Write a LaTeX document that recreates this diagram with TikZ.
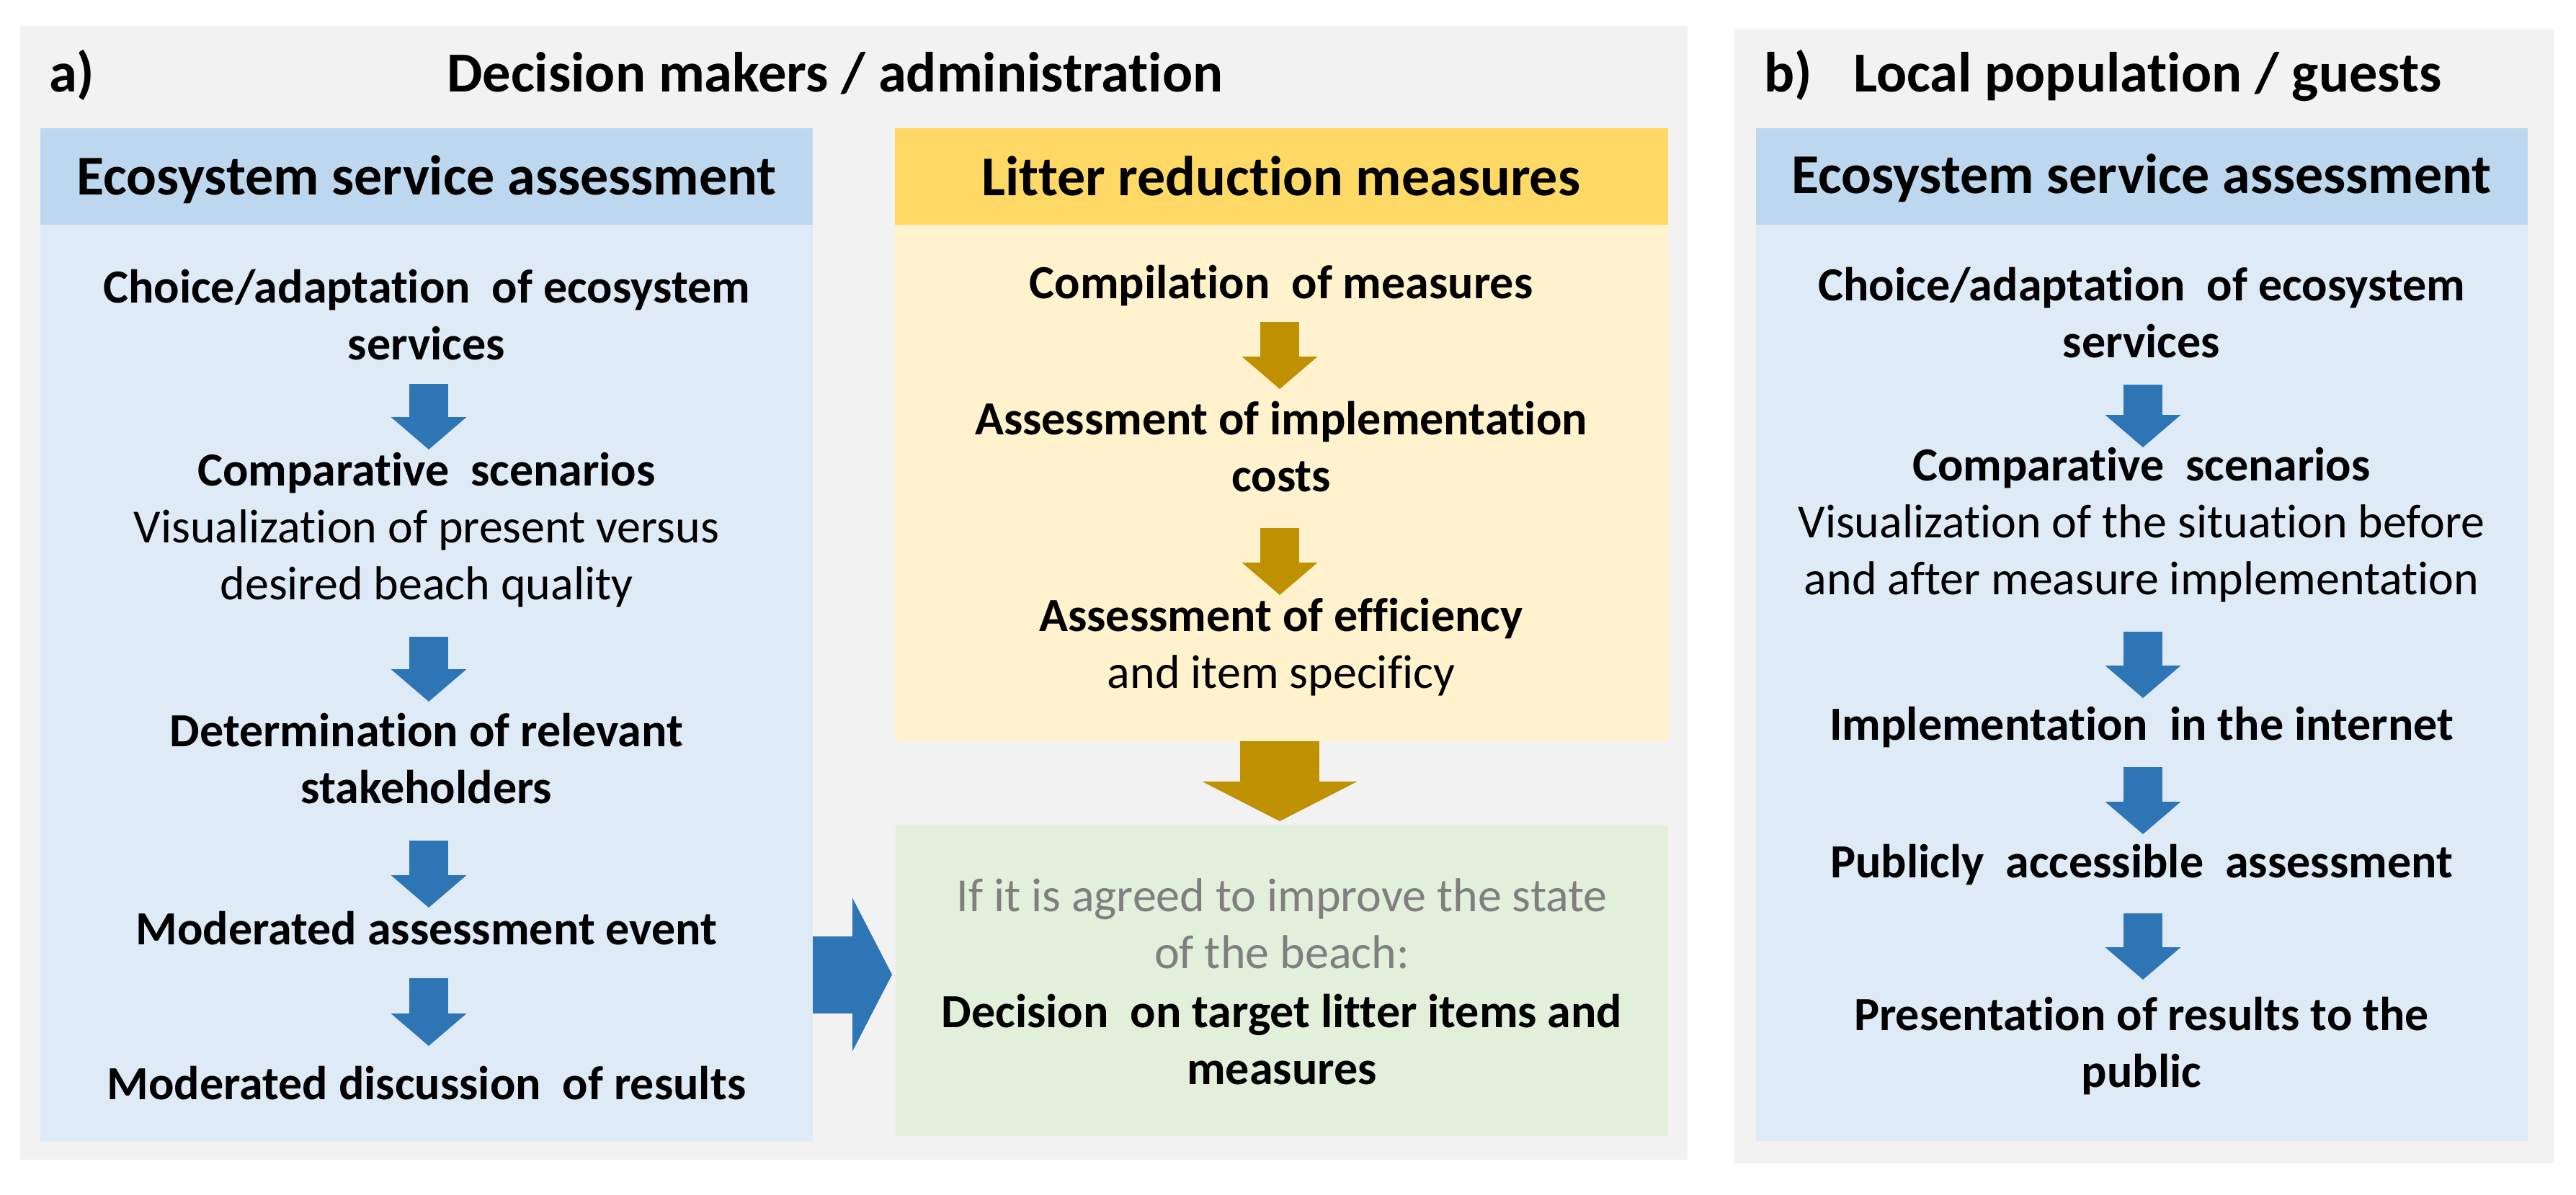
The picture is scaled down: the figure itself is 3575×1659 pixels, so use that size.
\documentclass[tikz,border=0pt]{standalone}
\usepackage{fontspec}
\setmainfont{Carlito}[Ligatures=NoCommon]
\usetikzlibrary{arrows.meta}
\definecolor{panelgray}{HTML}{F2F2F2}
\definecolor{bluehead}{HTML}{BDD7EE}
\definecolor{bluebody}{HTML}{DEEBF7}
\definecolor{yellowhead}{HTML}{FFD966}
\definecolor{yellowbody}{HTML}{FFF2CC}
\definecolor{greenbody}{HTML}{E2EFDA}
\definecolor{arrowblue}{HTML}{2E75B6}
\definecolor{arrowgold}{HTML}{BF9000}
\definecolor{graytext}{HTML}{7F7F7F}
\newcommand\firstline{\rule{0pt}{55pt}}
\begin{document}
\begin{tikzpicture}[x=1pt,y=-1pt,
  titletext/.style={font=\fontsize{78.5}{90}\selectfont\bfseries, anchor=base west, inner sep=0pt},
  headtext/.style={font=\fontsize{78}{90}\selectfont\bfseries, anchor=base, inner sep=0pt},
  bodytext/.style={font=\fontsize{66}{79}\selectfont, align=center, anchor=north, inner sep=0pt},
  boldbody/.style={bodytext, font=\fontsize{66}{79}\selectfont\bfseries},
  smallarrow/.style={line width=54pt, -{Triangle[width=105pt,length=45pt,line width=0pt]}},
  bluearrow/.style={smallarrow, color=arrowblue},
  goldarrow/.style={smallarrow, color=arrowgold},
]
\useasboundingbox (0,0) rectangle (3575,1659);
\fill[white] (0,0) rectangle (3575,1659);
% panels
\fill[panelgray] (28,36) rectangle (2342,1610);
\fill[panelgray] (2407,40) rectangle (3545,1615);
% boxes
\fill[bluehead] (56,178) rectangle (1128,312);
\fill[bluebody] (56,312) rectangle (1128,1585);
\fill[yellowhead] (1242,178) rectangle (2315,312);
\fill[yellowbody] (1242,312) rectangle (2315,1029);
\fill[greenbody] (1243,1146) rectangle (2315,1577);
\fill[bluehead] (2437,178) rectangle (3508,312);
\fill[bluebody] (2437,312) rectangle (3508,1584);

% titles
\node[titletext] (ta) at (68,128) {a)};
\node[titletext] (tat) at (620,128) {Decision makers / administration};
\node[titletext] (tb) at (2448,128) {b)};
\node[titletext] (tbt) at (2572,128) {Local population / guests};

% headers
\node[headtext] (hl) at (592,270) {Ecosystem service assessment};
\node[headtext] (hm) at (1778,271) {Litter reduction measures};
\node[headtext] (hr) at (2972,268) {Ecosystem service assessment};

% left column
\node[boldbody] (l1) at (592,365) {\firstline Choice/adaptation\ \ of ecosystem\\services};
\node[bodytext] (l2) at (592,619) {\firstline\textbf{Comparative\ \ scenarios}\\Visualization of present versus\\desired beach quality};
\node[boldbody] (l3) at (592,981) {\firstline Determination of relevant\\stakeholders};
\node[boldbody] (l4) at (592,1256) {\firstline Moderated assessment event};
\node[boldbody] (l5) at (592,1471) {\firstline Moderated discussion\ \ of results};

\coordinate (la1s) at (595,533);  \coordinate (la1e) at (595,624);
\coordinate (la2s) at (595,884);  \coordinate (la2e) at (595,974);
\coordinate (la3s) at (595,1167); \coordinate (la3e) at (595,1260);
\coordinate (la4s) at (595,1358); \coordinate (la4e) at (595,1452);
\draw[bluearrow] (la1s) -- (la1e);
\draw[bluearrow] (la2s) -- (la2e);
\draw[bluearrow] (la3s) -- (la3e);
\draw[bluearrow] (la4s) -- (la4e);

% middle column
\node[boldbody] (m1) at (1778,359) {\firstline Compilation\ \ of measures};
\node[boldbody] (m2) at (1778,548) {\firstline Assessment of implementation\\costs};
\node[bodytext] (m3) at (1778,821) {\firstline\textbf{Assessment of efficiency}\\and item specificy};
\coordinate (ma1s) at (1776,447); \coordinate (ma1e) at (1776,540);
\coordinate (ma2s) at (1776,733); \coordinate (ma2e) at (1776,826);
\draw[goldarrow] (ma1s) -- (ma1e);
\draw[goldarrow] (ma2s) -- (ma2e);

\coordinate (bgs) at (1776,1029); \coordinate (bge) at (1776,1140);
\draw[color=arrowgold, line width=110pt, -{Triangle[width=215pt,length=55pt,line width=0pt]}] (bgs) -- (bge);

\node[bodytext, text=graytext] (g1) at (1779,1210) {\firstline If it is agreed to improve the state\\of the beach:};
\node[boldbody] (g2) at (1779,1371) {\firstline Decision\ \ on target litter items and\\measures};

\coordinate (ras) at (1128,1353); \coordinate (rae) at (1238,1353);
\draw[color=arrowblue, line width=107pt, -{Triangle[width=213pt,length=55pt,line width=0pt]}] (ras) -- (rae);

% right column
\node[boldbody] (r1) at (2972,362) {\firstline Choice/adaptation\ \ of ecosystem\\services};
\node[bodytext] (r2) at (2972,612) {\firstline\textbf{Comparative\ \ scenarios}\\Visualization of the situation before\\and after measure implementation};
\node[boldbody] (r3) at (2972,972) {\firstline Implementation\ \ in the internet};
\node[boldbody] (r4) at (2972,1163) {\firstline Publicly\ \ accessible\ \ assessment};
\node[boldbody] (r5) at (2972,1375) {\firstline Presentation of results to the\\public};

\coordinate (ra1s) at (2974,534);  \coordinate (ra1e) at (2974,621);
\coordinate (ra2s) at (2974,877);  \coordinate (ra2e) at (2974,969);
\coordinate (ra3s) at (2974,1065); \coordinate (ra3e) at (2974,1158);
\coordinate (ra4s) at (2974,1268); \coordinate (ra4e) at (2974,1360);
\draw[bluearrow] (ra1s) -- (ra1e);
\draw[bluearrow] (ra2s) -- (ra2e);
\draw[bluearrow] (ra3s) -- (ra3e);
\draw[bluearrow] (ra4s) -- (ra4e);
\end{tikzpicture}
\end{document}
